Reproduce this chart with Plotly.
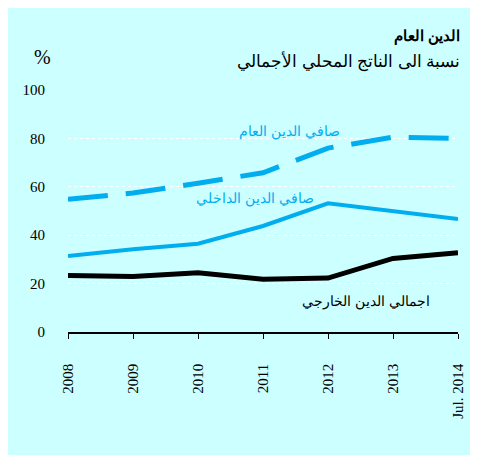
import plotly.graph_objects as go

FONT_AR = "'Liberation Sans', Arial, sans-serif"
FONT_NUM = "'Liberation Serif', 'Times New Roman', serif"
BG = '#ccffff'
CYAN = '#00aeef'
BLACK = '#000000'

years = ['2008', '2009', '2010', '2011', '2012', '2013', 'Jul. 2014']
net_public_debt = [54.8, 57.4, 61.5, 65.8, 76.0, 80.5, 80.0]
net_domestic_debt = [31.4, 34.2, 36.5, 43.8, 53.2, 50.0, 46.7]
gross_external_debt = [23.3, 22.9, 24.5, 21.8, 22.3, 30.4, 32.8]
y_ticks = [0, 20, 40, 60, 80, 100]

x = list(range(len(years)))

fig = go.Figure()
fig.add_trace(go.Scatter(x=x, y=net_public_debt, mode='lines',
                         line=dict(color=CYAN, width=5, dash='40px,18px')))
fig.add_trace(go.Scatter(x=x, y=net_domestic_debt, mode='lines',
                         line=dict(color=CYAN, width=4)))
fig.add_trace(go.Scatter(x=x, y=gross_external_debt, mode='lines',
                         line=dict(color=BLACK, width=5)))

# light cyan panel filling the figure (page body adds the white border)
fig.add_shape(type='rect', xref='paper', yref='paper', layer='below',
              x0=-0.16, x1=1.05, y0=-0.52, y1=1.35,
              fillcolor=BG, line=dict(width=0))

fig.add_annotation(text='<b>الدين العام</b>', xref='paper', yref='paper',
                   x=1.01, y=1.223, xanchor='right', yanchor='middle',
                   showarrow=False, font=dict(family=FONT_AR, size=15, color=BLACK))
fig.add_annotation(text='نسبة الى الناتج المحلي الأجمالي', xref='paper', yref='paper',
                   x=1.01, y=1.116, xanchor='right', yanchor='middle',
                   showarrow=False, font=dict(family=FONT_AR, size=16.5, color=BLACK))
fig.add_annotation(text='%', xref='paper', yref='paper',
                   x=-0.066, y=1.136, xanchor='center', yanchor='middle',
                   showarrow=False, font=dict(family=FONT_NUM, size=20, color=BLACK))

fig.add_annotation(text='صافي الدين العام', x=3.40, y=83, showarrow=False,
                   font=dict(family=FONT_AR, size=14, color=CYAN))
fig.add_annotation(text='صافي الدين الداخلي', x=2.87, y=55, showarrow=False,
                   font=dict(family=FONT_AR, size=14, color=CYAN))
fig.add_annotation(text='اجمالي الدين الخارجي', x=4.58, y=12.5, showarrow=False,
                   font=dict(family=FONT_AR, size=14, color=BLACK))

fig.update_layout(
    width=470, height=447,
    margin=dict(l=60, r=17, t=82, b=123),
    paper_bgcolor='white',
    plot_bgcolor=BG,
    showlegend=False,
    font=dict(family=FONT_NUM, size=15, color=BLACK),
)
fig.update_xaxes(
    range=[0, 6], tickvals=x, ticktext=years, tickangle=-90,
    showgrid=False, zeroline=False,
    showline=True, linecolor=BLACK, linewidth=1.5,
    ticks='outside', ticklen=5, tickcolor=BLACK, tickwidth=1,
    ticklabelstandoff=19,
    tickfont=dict(family=FONT_NUM, size=15, color=BLACK),
)
fig.update_yaxes(
    range=[0, 100], tickvals=y_ticks,
    showgrid=True, gridcolor='white', griddash='dot', gridwidth=1,
    zeroline=False, showline=False, ticks='',
    ticklabelstandoff=22,
    tickfont=dict(family=FONT_NUM, size=15, color=BLACK),
)

fig.write_html('out.html')
